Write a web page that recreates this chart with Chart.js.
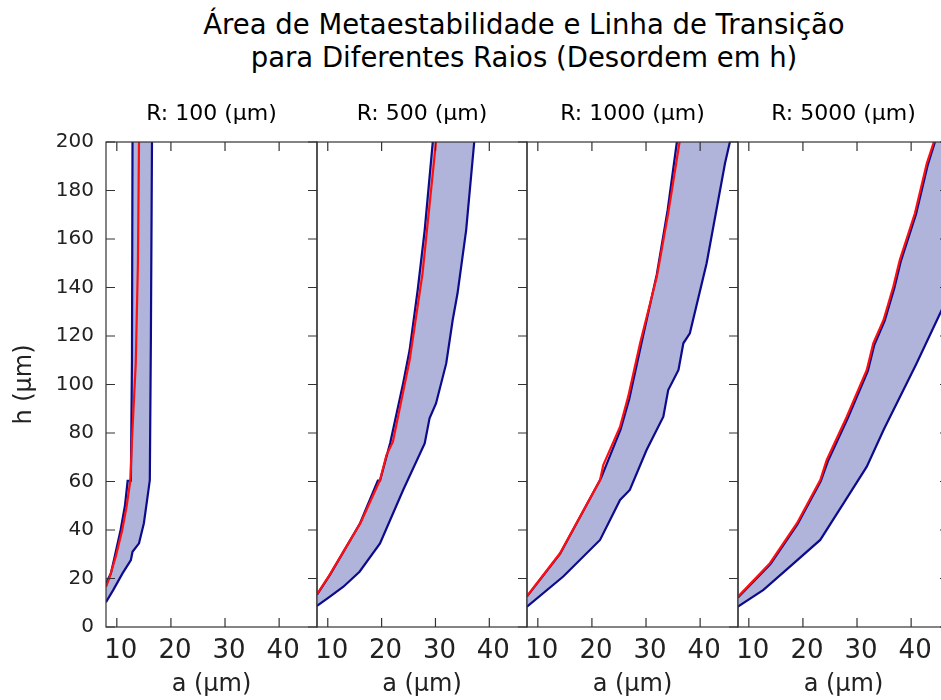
<!DOCTYPE html>
<html>
<head>
<meta charset="utf-8">
<script src="https://cdn.jsdelivr.net/npm/chart.js@4.4.1/dist/chart.umd.min.js"></script>
<style>
  html, body { margin: 0; padding: 0; background: #ffffff; }
  body { width: 941px; height: 700px; overflow: hidden; position: relative; font-family: 'DejaVu Sans', sans-serif; }
  #mainTitle { position: absolute; left: 103px; width: 842px; top: 8px; text-align: center;
               font-size: 27.5px; line-height: 33px; color: #000; font-family: 'DejaVu Sans', sans-serif; }
  canvas { position: absolute; top: 0; }
</style>
</head>
<body>
<div id="mainTitle">Área de Metaestabilidade e Linha de Transição<br>para Diferentes Raios (Desordem em h)</div>
<canvas id="p0" width="327" height="700" style="left:0px"></canvas>
<canvas id="p1" width="240" height="700" style="left:297px"></canvas>
<canvas id="p2" width="241" height="700" style="left:507px"></canvas>
<canvas id="p3" width="241" height="700" style="left:718px"></canvas>
<script>
// ---------------- data ----------------
const radii = [100, 500, 1000, 5000];
const xTicks = [10, 20, 30, 40];
const yTicks = [0, 20, 40, 60, 80, 100, 120, 140, 160, 180, 200];

// R = 100 µm
const r100_upper_a = [8.0, 8.9, 9.6, 10.7, 11.5, 12.0, 12.6, 12.8, 12.9];
const r100_upper_h = [18.0, 22.1, 29.0, 40.0, 50.0, 60.3, 60.3, 110, 200];
const r100_lower_a = [8.0, 9.35, 11.05, 12.6, 12.9, 14.1, 15.0, 15.6, 16.1, 16.3, 16.5];
const r100_lower_h = [10.2, 15.3, 22.1, 27.6, 31.0, 34.5, 42.8, 52.4, 60.6, 120, 200];
const r100_red_a = [8.0, 8.6, 9.8, 11.0, 11.8, 12.5, 12.8, 13.5, 13.9, 14.1];
const r100_red_h = [16.6, 20.0, 29.0, 40.0, 49.6, 60.3, 77.0, 108.7, 150, 200];

// R = 500 µm
const r500_upper_a = [8.0, 10.4, 12.9, 16.0, 19.3, 19.7, 21.6, 24.0, 25.2, 26.7, 28.0, 29.5];
const r500_upper_h = [13.3, 21.5, 31.0, 42.8, 60.4, 60.4, 76.0, 100.5, 114.2, 139.0, 163.7, 200];
const r500_lower_a = [8.0, 10.4, 12.9, 15.9, 19.7, 24.0, 28.0, 28.9, 30.1, 32.0, 33.2, 34.1, 35.7, 37.2];
const r500_lower_h = [8.7, 12.5, 16.6, 22.8, 34.5, 56.5, 75.7, 86.1, 92.2, 108.7, 126.6, 137.6, 163.7, 200];
const r500_red_a = [8.0, 10.4, 12.9, 16.1, 19.7, 20.9, 22.1, 25.2, 27.6, 30.1];
const r500_red_h = [13.5, 21.7, 31.1, 43.0, 60.6, 70.9, 76.4, 110.0, 145.8, 200];

// R = 1000 µm
const r1000_upper_a = [8.0, 14.1, 21.4, 21.7, 25.3, 26.9, 29.1, 32.0, 34.0, 35.7];
const r1000_upper_h = [12.6, 30.1, 60.2, 61.5, 81.5, 94.0, 116.5, 145.5, 172.0, 200];
const r1000_lower_a = [8.0, 14.7, 21.5, 25.2, 27.0, 30.1, 33.2, 34.1, 36.0, 36.9, 38.1, 41.2, 44.6, 45.5];
const r1000_lower_h = [8.4, 20.8, 35.9, 52.4, 56.5, 73.0, 86.7, 97.7, 106.0, 117.0, 121.1, 150.0, 191.2, 200];
const r1000_red_a = [8.0, 14.1, 21.5, 22.1, 25.2, 26.7, 28.9, 32.0, 34.1, 36.2];
const r1000_red_h = [12.8, 30.4, 60.6, 66.8, 82.6, 95.0, 117.0, 144.5, 170.6, 200];

// R = 5000 µm
const r5000_upper_a = [8.0, 14.0, 19.0, 23.3, 24.6, 28.3, 32.0, 33.2, 35.1, 36.9, 38.1, 40.9, 43.1, 44.4];
const r5000_upper_h = [12.2, 26.0, 42.4, 60.2, 68.3, 86.2, 105.6, 116.4, 126.2, 139.8, 150.9, 170.2, 190.8, 200];
const r5000_lower_a = [8.0, 12.7, 17.6, 23.2, 27.5, 31.8, 34.9, 41.0, 45.5, 47.0];
const r5000_lower_h = [8.4, 15.3, 24.9, 35.9, 51.0, 66.1, 81.2, 108.7, 130.0, 137.0];
const r5000_red_a = [8.0, 13.9, 18.9, 23.2, 24.4, 28.1, 31.8, 33.0, 34.9, 36.7, 37.9, 40.7, 42.9, 44.2];
const r5000_red_h = [12.5, 26.3, 42.8, 60.6, 68.9, 86.7, 106.0, 117.0, 126.6, 140.3, 151.3, 170.6, 191.2, 200];

// ---------------- styling ----------------
const FONT = 'DejaVu Sans';
const BLUE = '#0b0b8c';
const RED = '#ff1010';
const FILL = '#b0b3da';
const AXIS = '#333333';
const TEXT = '#222222';
const X_MIN = 8, X_MAX = 47, Y_MIN = 0, Y_MAX = 200;

Chart.defaults.font.family = FONT;

function pts(a, h) { return a.map((v, i) => ({ x: v, y: h[i] })); }

// frame + inward tick marks, placed through the scales
const framePlugin = {
  id: 'frame',
  afterDatasetsDraw(chart, args, opts) {
    const { ctx, chartArea: ar, scales } = chart;
    const xs = scales.x, ys = scales.y;
    const L = 9;
    ctx.save();
    ctx.strokeStyle = AXIS;
    ctx.lineWidth = 1.2;
    ctx.strokeRect(ar.left, ar.top, ar.right - ar.left, ar.bottom - ar.top);
    ctx.beginPath();
    xTicks.forEach(v => {
      const px = xs.getPixelForValue(v);
      ctx.moveTo(px, ar.bottom); ctx.lineTo(px, ar.bottom - L);
      ctx.moveTo(px, ar.top); ctx.lineTo(px, ar.top + L);
    });
    yTicks.forEach(v => {
      const py = ys.getPixelForValue(v);
      if (opts.left) { ctx.moveTo(ar.left, py); ctx.lineTo(ar.left + L, py); }
      ctx.moveTo(ar.right, py); ctx.lineTo(ar.right - L, py);
    });
    ctx.stroke();
    ctx.restore();
  }
};

function makePanel(idx, upA, upH, loA, loH, rdA, rdH) {
  const upper = pts(upA, upH);
  const lower = pts(loA, loH);
  const red = pts(rdA, rdH);
  const poly = upper.slice();
  if (lower[lower.length - 1].y < Y_MAX) poly.push({ x: X_MAX, y: Y_MAX });
  lower.slice().reverse().forEach(p => poly.push(p));

  const first = idx === 0;
  const yScale = {
    type: 'linear', min: Y_MIN, max: Y_MAX, display: first,
    afterBuildTicks: s => { s.ticks = yTicks.map(v => ({ value: v })); },
    grid: { display: false, drawTicks: false },
    border: { display: false },
    ticks: { font: { family: FONT, size: 20 }, color: TEXT, padding: 12 },
    title: { display: true, text: 'h (µm)', font: { family: FONT, size: 24 }, color: TEXT,
             padding: { top: 10, bottom: 0 } }
  };
  if (first) yScale.afterFit = s => { s.width = 106; };

  return new Chart(document.getElementById('p' + idx), {
    type: 'scatter',
    data: {
      datasets: [
        { label: 'Linha de Transição', data: red, showLine: true, borderColor: RED, borderWidth: 2.2,
          pointRadius: 0, fill: false, tension: 0, order: 0 },
        { label: 'Limite superior', data: upper, showLine: true, borderColor: BLUE, borderWidth: 2.2,
          pointRadius: 0, fill: false, tension: 0, order: 1 },
        { label: 'Limite inferior', data: lower, showLine: true, borderColor: BLUE, borderWidth: 2.2,
          pointRadius: 0, fill: false, tension: 0, order: 2 },
        { label: 'Área de Metaestabilidade', data: poly, showLine: true, borderColor: 'rgba(0,0,0,0)',
          borderWidth: 0, pointRadius: 0, fill: 'shape', backgroundColor: FILL, tension: 0, order: 3 }
      ]
    },
    options: {
      responsive: false,
      animation: false,
      devicePixelRatio: 1,
      events: [],
      layout: { padding: { top: 100, left: first ? 0 : 20, right: 10, bottom: 0 } },
      plugins: {
        legend: { display: false },
        tooltip: { enabled: false },
        title: {
          display: true, text: 'R: ' + radii[idx] + ' (µm)', fullSize: false,
          font: { family: FONT, size: 22, weight: 'normal' }, color: '#000',
          padding: { top: 0.8, bottom: 14.8 }
        },
        frame: { left: first }
      },
      scales: {
        x: {
          type: 'linear', min: X_MIN, max: X_MAX,
          afterBuildTicks: s => { s.ticks = xTicks.map(v => ({ value: v })); },
          afterFit: s => { s.height = 73; },
          grid: { display: false, drawTicks: false },
          border: { display: false },
          ticks: { font: { family: FONT, size: 26 }, color: TEXT, padding: 9, labelOffset: 4,
                   maxRotation: 0, autoSkip: false },
          title: { display: true, text: 'a (µm)', font: { family: FONT, size: 24 }, color: TEXT,
                   padding: { top: 0, bottom: 1 } }
        },
        y: yScale
      }
    },
    plugins: [framePlugin]
  });
}

makePanel(0, r100_upper_a, r100_upper_h, r100_lower_a, r100_lower_h, r100_red_a, r100_red_h);
makePanel(1, r500_upper_a, r500_upper_h, r500_lower_a, r500_lower_h, r500_red_a, r500_red_h);
makePanel(2, r1000_upper_a, r1000_upper_h, r1000_lower_a, r1000_lower_h, r1000_red_a, r1000_red_h);
makePanel(3, r5000_upper_a, r5000_upper_h, r5000_lower_a, r5000_lower_h, r5000_red_a, r5000_red_h);
</script>
</body>
</html>
